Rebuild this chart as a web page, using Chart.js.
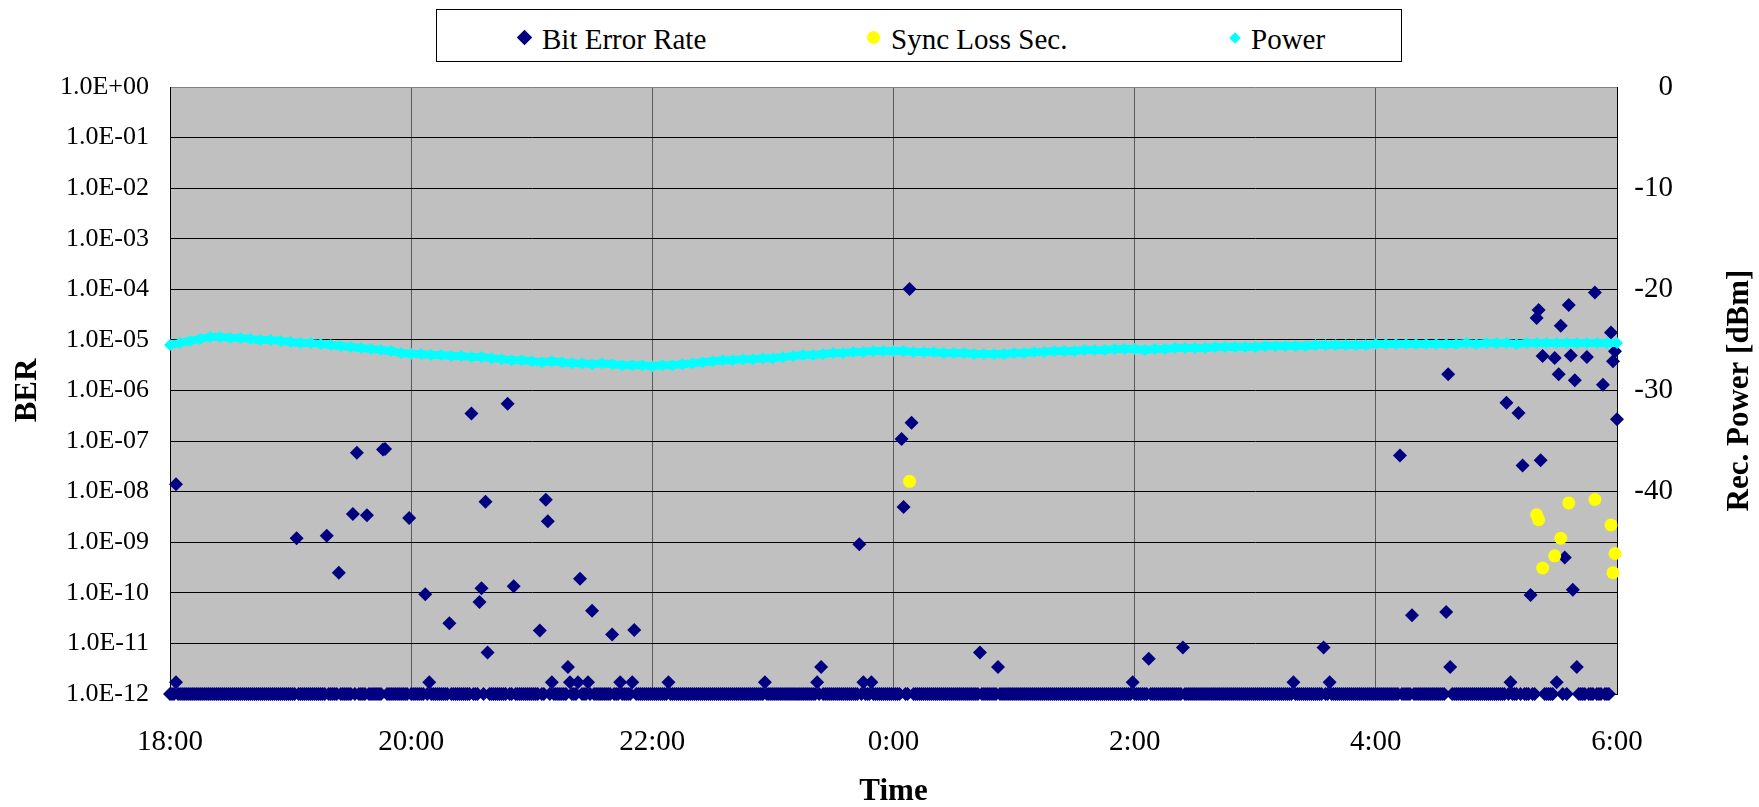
<!DOCTYPE html>
<html>
<head>
<meta charset="utf-8">
<title>BER and received power</title>
<script src="https://cdn.jsdelivr.net/npm/chart.js@4.4.1/dist/chart.umd.min.js"></script>
<style>
  html, body { margin: 0; padding: 0; background: #fff; }
  #wrap { position: relative; width: 1759px; height: 807px; }
  #chart { position: absolute; left: 0; top: 0; }
  #legendBox { position: absolute; left: 436px; top: 9px; width: 966px; height: 53px; border: 1px solid #000; box-sizing: border-box; background: #fff; }
  .lg-text { position: absolute; font-family: 'Liberation Serif', 'Times New Roman', serif; font-size: 29px; line-height: 29px; color: #000; white-space: nowrap; }
  .lg-mark { position: absolute; }
</style>
</head>
<body>
<div id="wrap">
  <canvas id="chart" width="1759" height="807"></canvas>
  <div id="legendBox"></div>
</div>
<script>
// time axis: minutes after 18:00, one tick every two hours
const timeLabels = ['18:00', '20:00', '22:00', '0:00', '2:00', '4:00', '6:00'];
const berTicks = [1, 1e-1, 1e-2, 1e-3, 1e-4, 1e-5, 1e-6, 1e-7, 1e-8, 1e-9, 1e-10, 1e-11, 1e-12];
const berFloor = 1e-12;   // error-free minutes sit on the floor of the log axis
const totalMinutes = 720;

// minutes with a measurable bit error rate
const berMinutes = [3, 3, 63, 78, 84, 91, 93, 98, 106, 107, 119, 127, 129, 139, 150, 154, 155, 157, 158, 168,
  171, 184, 187, 188, 190, 198, 199, 203, 204, 208, 210, 220, 224, 230, 231, 248, 296, 322, 324, 343,
  345, 349, 364, 365, 368, 369, 403, 412, 479, 487, 504, 559, 574, 577, 612, 618, 635, 636, 637, 665,
  667, 671, 673, 677, 680, 681, 682, 683, 689, 690, 691, 692, 694, 696, 697, 698, 699, 700, 705, 709,
  713, 717, 718, 719, 720];
const berValues = [1.4e-8, 1.7e-12, 1.2e-9, 1.35e-9, 2.5e-10, 3.6e-9, 5.9e-8, 3.4e-9, 6.8e-8, 7.0e-8, 3.0e-9, 9.4e-11, 1.7e-12, 2.5e-11, 3.5e-7, 6.6e-11, 1.23e-10, 6.3e-9, 6.6e-12, 5.5e-7,
  1.35e-10, 1.8e-11, 6.9e-9, 2.6e-9, 1.7e-12, 3.4e-12, 1.7e-12, 1.7e-12, 1.9e-10, 1.7e-12, 4.4e-11, 1.5e-11, 1.7e-12, 1.7e-12, 1.85e-11, 1.7e-12, 1.7e-12, 1.7e-12, 3.4e-12, 9.1e-10,
  1.7e-12, 1.7e-12, 1.1e-7, 5.0e-9, 1.02e-4, 2.3e-7, 6.6e-12, 3.4e-12, 1.7e-12, 5.0e-12, 8.3e-12, 1.7e-12, 8.3e-12, 1.7e-12, 5.2e-8, 3.6e-11, 4.2e-11, 2.1e-6, 3.4e-12, 5.7e-7,
  1.7e-12, 3.6e-7, 3.3e-8, 9.1e-11, 2.7e-5, 3.9e-5, 4.2e-8, 4.8e-6, 4.4e-6, 1.7e-12, 2.1e-6, 1.9e-5, 5.0e-10, 4.9e-5, 4.9e-6, 1.15e-10, 1.6e-6, 3.4e-12, 4.6e-6, 8.7e-5,
  1.3e-6, 1.4e-5, 3.8e-6, 6.0e-6, 2.7e-7];

// seconds with loss of sync, plotted against the BER axis
const syncMinutes = [368, 680, 681, 683, 689, 692, 696, 709, 717, 718, 719];
const syncValues = [1.6e-8, 3.5e-9, 2.8e-9, 3.1e-10, 5.4e-10, 1.2e-9, 6.0e-9, 7.0e-9, 2.2e-9, 2.5e-10, 6.0e-10];

// received optical power [dBm], one reading every 5 minutes from 18:00
const powerStep = 5;
const powerValues = [
  -25.5, -25.3, -25.1, -24.9, -24.7, -24.7, -24.8, -24.8, -24.9, -25.0, -25.0, -25.1,
  -25.2, -25.3, -25.3, -25.4, -25.5, -25.6, -25.7, -25.8, -25.9, -26.0, -26.1, -26.3,
  -26.4, -26.4, -26.5, -26.5, -26.6, -26.6, -26.7, -26.7, -26.8, -26.9, -27.0, -27.0,
  -27.1, -27.2, -27.1, -27.2, -27.3, -27.3, -27.4, -27.3, -27.4, -27.5, -27.5, -27.5,
  -27.6, -27.5, -27.5, -27.4, -27.3, -27.2, -27.1, -27.0, -27.0, -26.9, -26.9, -26.8,
  -26.8, -26.7, -26.6, -26.5, -26.5, -26.4, -26.3, -26.3, -26.2, -26.2, -26.1, -26.1,
  -26.1, -26.1, -26.2, -26.2, -26.2, -26.3, -26.3, -26.3, -26.4, -26.4, -26.4, -26.4,
  -26.3, -26.3, -26.2, -26.2, -26.1, -26.1, -26.1, -26.0, -26.0, -26.0, -25.9, -25.9,
  -25.9, -26.0, -25.9, -25.9, -25.8, -25.8, -25.8, -25.8, -25.7, -25.7, -25.7, -25.7,
  -25.7, -25.6, -25.6, -25.6, -25.6, -25.6, -25.5, -25.5, -25.5, -25.5, -25.5, -25.5,
  -25.4, -25.4, -25.4, -25.4, -25.4, -25.4, -25.4, -25.4, -25.4, -25.3, -25.4, -25.3,
  -25.3, -25.3, -25.4, -25.3, -25.3, -25.3, -25.3, -25.3, -25.3, -25.3, -25.3, -25.3,
  -25.3
];

// every other minute of the run had no errors
const errorMinutes = new Set(berMinutes);
const berData = [];
for (let m = 0; m <= totalMinutes; m++) {
  if (!errorMinutes.has(m)) berData.push({ x: m, y: berFloor });
}
berMinutes.forEach((m, i) => berData.push({ x: m, y: berValues[i] }));
const syncData = syncMinutes.map((m, i) => ({ x: m, y: syncValues[i] }));
const powerData = powerValues.map((v, i) => ({ x: i * powerStep, y: v }));

const serif = 'Liberation Serif';

function formatBer(v) {
  const e = Math.round(Math.log10(v));
  const sign = e < 0 ? '-' : '+';
  return '1.0E' + sign + String(Math.abs(e)).padStart(2, '0');
}

const plotBackground = {
  id: 'plotBackground',
  beforeDraw(chart) {
    const { ctx, chartArea: a } = chart;
    ctx.save();
    ctx.fillStyle = '#C0C0C0';
    ctx.fillRect(a.left, a.top, a.right - a.left, a.bottom - a.top);
    ctx.restore();
  }
};

// right-hand axis title reads bottom to top, like the left one
const powerTitle = {
  id: 'powerTitle',
  afterDraw(chart) {
    const { ctx, chartArea: a } = chart;
    ctx.save();
    ctx.translate(chart.width - 19, (a.top + a.bottom) / 2);
    ctx.rotate(-Math.PI / 2);
    ctx.font = 'bold 31px "' + serif + '"';
    ctx.fillStyle = '#000';
    ctx.textAlign = 'center';
    ctx.textBaseline = 'middle';
    ctx.fillText('Rec. Power [dBm]', 0, 0);
    ctx.restore();
  }
};

const chart = new Chart(document.getElementById('chart'), {
  type: 'scatter',
  data: {
    datasets: [
      {
        label: 'Bit Error Rate', data: berData, yAxisID: 'y', order: 3, clip: false,
        pointStyle: 'rectRot', pointRadius: 7, borderWidth: 0,
        backgroundColor: '#000080', borderColor: '#000080'
      },
      {
        label: 'Sync Loss Sec.', data: syncData, yAxisID: 'y', order: 2, clip: false,
        pointStyle: 'circle', pointRadius: 6.5, borderWidth: 0,
        backgroundColor: '#FFFF00', borderColor: '#FFFF00'
      },
      {
        label: 'Power', data: powerData, yAxisID: 'y2', order: 1, clip: false,
        showLine: true, borderWidth: 8, borderColor: '#00FFFF',
        pointStyle: 'rectRot', pointRadius: 6, pointBorderWidth: 0,
        backgroundColor: '#00FFFF'
      }
    ]
  },
  options: {
    responsive: false,
    animation: false,
    events: [],
    layout: { padding: { left: 9, right: 86, top: 87, bottom: 0 } },
    plugins: { legend: { display: false }, tooltip: { enabled: false } },
    scales: {
      x: {
        type: 'linear', position: 'bottom', min: 0, max: totalMinutes,
        afterFit: s => { s.height = 113; },
        ticks: {
          stepSize: 120, autoSkip: false, maxRotation: 0, padding: 31, color: '#000',
          font: { family: serif, size: 29 },
          callback: v => timeLabels[v / 120]
        },
        grid: { color: '#5a5a5a', lineWidth: 1, drawTicks: false },
        border: { color: '#000', width: 1 },
        title: { display: true, text: 'Time', color: '#000', padding: 0, font: { family: serif, size: 31, weight: 'bold', lineHeight: 1 } }
      },
      y: {
        type: 'logarithmic', position: 'left', min: berFloor, max: 1,
        afterFit: s => { s.width = 161; },
        afterBuildTicks: s => { s.ticks = berTicks.map(v => ({ value: v })); },
        ticks: {
          padding: 21, color: '#000', autoSkip: false,
          font: { family: serif, size: 26 },
          callback: v => formatBer(v)
        },
        grid: {
          drawTicks: false, lineWidth: 1,
          color: c => (c.tick && c.tick.value === 1 ? '#808080' : '#000')
        },
        border: { color: '#000', width: 1 },
        title: { display: true, text: 'BER', color: '#000', padding: 0, font: { family: serif, size: 31, weight: 'bold' } }
      },
      y2: {
        type: 'linear', position: 'right', min: -60, max: 0,
        afterFit: s => { s.width = 56; },
        ticks: {
          stepSize: 10, crossAlign: 'far', color: '#000',
          font: { family: serif, size: 29 },
          callback: v => (v >= -40 ? String(v) : '')
        },
        grid: { drawOnChartArea: false, drawTicks: false },
        border: { color: '#000', width: 1 }
      }
    }
  },
  plugins: [plotBackground, powerTitle]
});

// legend box built from the datasets
const legendSlots = [
  { mark: 524, text: 542 },
  { mark: 873, text: 891 },
  { mark: 1235, text: 1251 }
];
const markSizes = { 'Bit Error Rate': 11, 'Sync Loss Sec.': 13, 'Power': 8 };
const wrap = document.getElementById('wrap');
chart.data.datasets.forEach((ds, i) => {
  const slot = legendSlots[i];
  const size = markSizes[ds.label];
  const mark = document.createElement('div');
  mark.className = 'lg-mark';
  mark.style.width = size + 'px';
  mark.style.height = size + 'px';
  mark.style.left = (slot.mark - size / 2) + 'px';
  mark.style.top = (37.5 - size / 2) + 'px';
  mark.style.background = ds.backgroundColor;
  if (ds.pointStyle === 'circle') mark.style.borderRadius = '50%';
  else mark.style.transform = 'rotate(45deg)';
  wrap.appendChild(mark);
  const text = document.createElement('div');
  text.className = 'lg-text';
  text.style.left = slot.text + 'px';
  text.style.top = '25px';
  text.textContent = ds.label;
  wrap.appendChild(text);
});
</script>
</body>
</html>
